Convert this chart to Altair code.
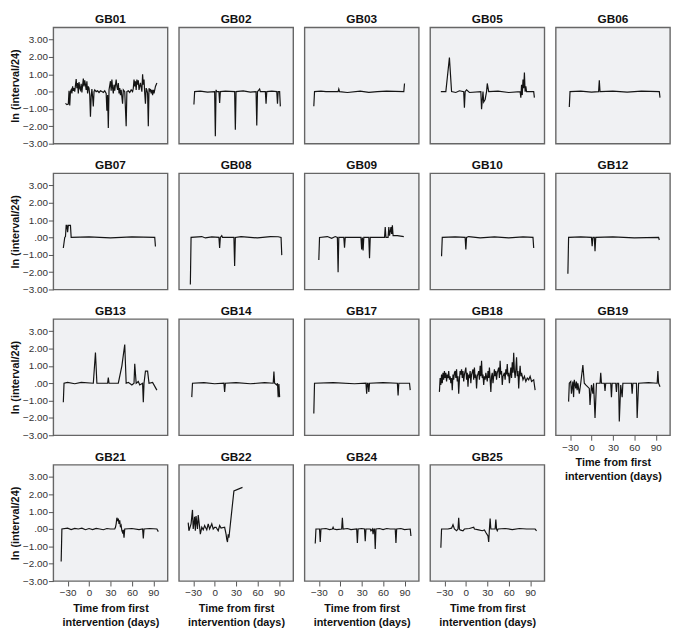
import altair as alt
import pandas as pd

PANELS = ["GB01", "GB02", "GB03", "GB05", "GB06",
          "GB07", "GB08", "GB09", "GB10", "GB12",
          "GB13", "GB14", "GB17", "GB18", "GB19",
          "GB21", "GB22", "GB24", "GB25"]
BOTTOM = ["GB19", "GB21", "GB22", "GB24", "GB25"]
X_TICKS = [-30, 0, 30, 60, 90]
Y_TICKS = [-3, -2, -1, 0, 1, 2, 3]

GB01_DAY = [-33, -31, -29, -28, -27, -26, -25, -24, -23, -22, -21, -20, -18, -17, -16, -15, -14, -13, -12, -11, -10, -8, -7, -6, -5, -4, -3, -2, -1, 0, 1, 2, 3, 4, 5, 6, 7, 8, 10, 12, 14, 16, 18, 20, 22, 24, 25, 26, 27, 28, 30, 31, 32, 33, 34, 35, 36, 38, 39, 40, 41, 42, 43, 44, 45, 46, 47, 48, 50, 52, 53, 55, 57, 59, 61, 62, 63, 64, 65, 66, 67, 68, 69, 70, 72, 74, 75, 76, 77, 78, 79, 80, 81, 82, 83, 84, 85, 86, 87, 88, 89, 90, 91, 93, 95]
GB01_VAL = [-0.68, -0.75, -0.72, 0.05, -0.8, 0.0, 0.1, -0.1, 0.3, 0.05, 0.2, 0.0, 0.72, 0.2, 0.5, -0.1, 0.55, 0.2, 0.1, 0.45, -0.05, 0.75, 0.3, 0.65, 0.4, 0.1, 0.6, -0.1, 0.3, 0.2, -0.2, -1.45, -0.3, 0.15, -0.3, -0.85, 0.0, 0.1, 0.0, 0.05, -0.05, 0.05, 0.0, -0.05, 0.05, -0.1, -1.1, -0.2, -2.1, 0.1, 0.6, 0.05, 0.7, 0.2, -0.1, 0.4, 0.05, 0.7, 0.3, 0.1, 0.5, -0.1, 0.2, -0.2, 0.1, -0.3, -0.7, 0.1, 0.0, -2.0, 0.0, 0.05, -0.05, 0.1, 0.0, 0.2, 0.7, 0.3, 0.6, 0.1, 0.7, 0.4, 0.65, 0.1, 0.5, 0.0, 1.0, 0.4, 0.7, -0.1, -0.7, 0.2, 0.1, -0.1, -2.0, 0.2, 0.0, 0.15, -0.1, 0.1, -0.2, 0.1, -0.1, 0.3, 0.5]

GB02_DAY = [-29, -28, -20, -10, 0, 1, 2, 3, 6, 7, 8, 15, 28, 29, 30, 40, 50, 58, 59, 60, 63, 64, 71, 72, 73, 80, 87, 88, 89, 91, 92]
GB02_VAL = [-0.74, 0.0, 0.03, -0.03, 0.0, -2.57, 0.1, 0.0, 0.0, -0.65, 0.0, 0.03, 0.0, -2.2, 0.0, 0.04, -0.03, 0.0, -1.95, 0.0, 0.15, 0.0, 0.0, -0.7, 0.0, 0.03, 0.0, -0.7, 0.0, 0.0, -0.85]

GB03_DAY = [-37, -36, -27, -20, -3, -2, -1, 10, 28, 40, 52, 65, 89, 90]
GB03_VAL = [-0.84, 0.0, 0.03, 0.0, 0.0, 0.15, 0.0, -0.05, 0.03, -0.04, 0.0, 0.03, 0.0, 0.47]

GB05_DAY = [-35, -28, -23, -20, -14, -9, -3, -2, -1, 1, 5, 21, 22, 24, 25, 27, 29, 30, 32, 45, 60, 76, 77, 78, 79, 80, 81, 82, 83, 84, 85, 95, 96]
GB05_VAL = [0.0, 0.0, 1.96, 0.0, -0.05, 0.05, 0.0, -0.93, 0.0, 0.1, -0.05, 0.0, -1.02, 0.0, -0.6, -0.45, 0.0, 0.47, 0.0, 0.03, -0.05, 0.0, -0.35, 0.4, -0.2, 0.7, 0.2, 1.1, 0.0, 0.3, 0.0, 0.0, -0.35]

GB06_DAY = [-31, -30, -15, 0, 10, 11, 12, 30, 50, 70, 95, 96]
GB06_VAL = [-0.89, 0.0, 0.03, -0.03, 0.0, 0.65, 0.0, 0.03, -0.03, 0.03, 0.0, -0.35]

GB07_DAY = [-36, -34, -33, -32, -31, -30, -29, -26, -25, 0, 30, 60, 92, 93]
GB07_VAL = [-0.61, 0.0, 0.05, 0.69, 0.69, 0.3, 0.69, 0.69, 0.0, 0.03, -0.03, 0.03, 0.0, -0.52]

GB08_DAY = [-34, -33, -18, -13, -4, 6, 7, 8, 10, 11, 27, 28, 29, 37, 60, 78, 89, 93, 94]
GB08_VAL = [-2.72, 0.0, 0.05, -0.03, 0.03, 0.0, -0.61, 0.0, 0.1, 0.0, 0.0, -1.65, 0.0, 0.05, -0.03, 0.05, 0.04, 0.0, -1.02]

GB09_DAY = [-30, -29, -18, -12, -7, -4, -3, -2, 5, 6, 7, 29, 30, 31, 32, 33, 40, 41, 42, 62, 63, 64, 67, 68, 69, 71, 72, 73, 74, 76, 80, 89]
GB09_VAL = [-1.3, 0.0, 0.05, -0.05, 0.05, 0.0, -2.0, 0.0, 0.0, -0.6, 0.0, 0.0, -0.7, 0.0, -0.75, 0.0, 0.0, -1.2, 0.0, 0.0, 0.6, 0.0, 0.0, 0.6, 0.1, 0.6, 0.2, 0.7, 0.1, 0.1, 0.1, 0.05]

GB10_DAY = [-34, -33, -15, -1, 0, 1, 4, 20, 40, 60, 80, 94, 95]
GB10_VAL = [-1.08, 0.0, 0.03, 0.0, -0.7, 0.0, 0.05, -0.03, 0.03, -0.03, 0.03, 0.0, -0.61]

GB12_DAY = [-33, -32, -15, 0, 1, 2, 4, 5, 6, 30, 60, 94, 95]
GB12_VAL = [-2.1, 0.0, 0.03, 0.0, -0.5, 0.0, 0.0, -0.8, 0.0, 0.03, -0.03, 0.0, -0.15]

GB13_DAY = [-36, -35, -30, -20, -11, 6, 9, 11, 26, 27, 28, 41, 46, 50, 52, 55, 60, 63, 64, 66, 69, 71, 75, 76, 77, 79, 82, 84, 89, 95]
GB13_VAL = [-1.1, 0.0, 0.05, -0.03, 0.05, 0.0, 1.77, 0.0, 0.0, 0.33, 0.0, 0.0, 1.0, 2.23, 0.0, 0.05, -0.1, 0.0, 1.12, 0.0, 0.1, -0.1, 0.0, -1.1, 0.0, 0.7, 0.7, 0.0, 0.05, -0.4]

GB14_DAY = [-32, -31, -15, 0, 13, 14, 15, 30, 50, 70, 82, 83, 84, 87, 88, 89, 90, 91]
GB14_VAL = [-0.8, 0.0, 0.03, -0.03, 0.0, -0.5, 0.0, 0.03, -0.03, 0.03, 0.0, 0.67, 0.0, -0.1, 0.0, -0.8, -0.05, -0.8]

GB17_DAY = [-37, -36, -10, 20, 36, 37, 38, 39, 40, 41, 60, 80, 81, 82, 97, 98]
GB17_VAL = [-1.75, 0.0, 0.03, -0.03, 0.0, -0.6, 0.0, 0.0, -0.5, 0.0, 0.03, 0.0, -0.7, 0.0, 0.0, -0.4]

GB18_DAY = [-37, -36, -35, -34, -33, -32, -31, -30, -29, -28, -27, -26, -25, -24, -23, -22, -21, -20, -19, -18, -17, -16, -15, -14, -13, -12, -11, -10, -9, -8, -7, -6, -5, -4, -3, -2, 0, 1, 2, 3, 4, 5, 6, 7, 8, 10, 11, 12, 13, 14, 15, 16, 18, 19, 20, 21, 22, 23, 24, 25, 26, 27, 28, 30, 31, 32, 33, 35, 36, 37, 38, 40, 41, 42, 43, 44, 46, 47, 48, 49, 50, 51, 52, 54, 55, 56, 57, 58, 59, 60, 61, 62, 63, 64, 65, 66, 67, 68, 69, 70, 71, 72, 73, 74, 75, 76, 77, 78, 80, 82, 84, 86, 88, 90, 92, 95, 97]
GB18_VAL = [-0.5, 0.3, -0.1, 0.5, 0.0, 0.6, 0.2, 0.7, 0.3, 0.6, 0.1, 0.5, 0.3, 0.7, 0.2, 0.4, 0.0, 0.3, -0.4, 0.5, 0.2, 0.6, 0.7, 0.3, 0.8, 0.1, 0.4, -0.6, 0.2, 0.7, 0.5, 0.8, 0.3, 0.7, 0.1, 0.5, 0.9, 0.2, 0.6, -0.2, 0.5, 0.3, 0.7, 0.0, 0.5, 0.8, 0.2, 0.9, 0.3, 0.5, -0.3, 0.4, 0.7, 0.2, 1.0, 0.4, 1.3, 0.3, 0.5, -0.1, 0.4, 0.2, 0.6, 0.1, 0.7, 0.3, 0.9, -0.5, 0.4, 0.6, 0.0, 0.8, 0.4, 0.7, 0.2, 0.6, 0.9, 0.3, 1.3, 0.5, 0.7, -0.1, 0.4, 0.6, 0.2, 0.8, 0.5, 1.1, 0.4, 0.6, 0.0, 0.5, 0.9, 0.3, 1.2, 0.6, 1.75, 0.7, 0.3, 0.8, 1.5, 0.4, 0.7, -0.3, 0.5, 1.0, 0.4, 0.6, 0.2, 0.4, 0.1, 0.3, 0.2, 0.4, 0.1, 0.2, -0.4]

GB19_DAY = [-32, -31, -29, -28, -26, -25, -24, -22, -21, -20, -19, -17, -15, -12, -10, -8, -3, -2, 0, 2, 3, 5, 7, 12, 13, 14, 18, 19, 20, 27, 28, 29, 34, 35, 36, 38, 39, 41, 43, 44, 56, 57, 58, 63, 64, 66, 80, 92, 93, 94, 96]
GB19_VAL = [-1.06, 0.0, 0.1, -0.6, 0.1, -0.8, 0.2, -0.3, 0.1, -0.4, 0.0, -0.6, 0.0, 1.05, 0.0, -0.1, -0.3, -1.25, -0.1, -0.6, 0.0, -2.0, 0.0, 0.0, 0.6, 0.0, 0.0, -0.45, 0.0, 0.0, -0.8, 0.0, 0.0, -0.5, 0.0, 0.0, -2.2, -0.1, -0.8, 0.0, 0.0, -0.6, 0.0, 0.0, -2.0, 0.0, 0.03, 0.0, 0.7, 0.0, -0.2]

GB21_DAY = [-39, -38, -30, -25, -20, -15, -10, -5, 0, 5, 10, 15, 20, 25, 30, 36, 37, 38, 39, 40, 41, 42, 43, 44, 45, 46, 47, 48, 49, 50, 60, 70, 75, 76, 77, 85, 95, 97]
GB21_VAL = [-1.87, 0.0, 0.05, -0.03, 0.04, 0.0, 0.05, -0.04, 0.03, -0.03, 0.04, 0.0, -0.04, 0.03, 0.0, 0.0, 0.1, 0.3, 0.65, 0.45, 0.6, 0.3, 0.5, 0.1, 0.2, -0.1, -0.2, -0.05, -0.5, 0.0, 0.03, -0.03, 0.0, -0.55, 0.0, 0.03, 0.0, -0.15]

GB22_DAY = [-37, -36, -33, -31, -30, -28, -27, -26, -24, -23, -21, -20, -18, -16, -14, -11, -9, -7, -4, -2, 0, 2, 5, 7, 9, 14, 16, 17, 18, 19, 20, 27, 39]
GB22_VAL = [0.37, -0.1, 0.3, 1.1, 0.0, 0.7, -0.1, 0.75, 0.0, 0.8, 0.1, -0.3, 0.1, -0.05, 0.2, -0.05, 0.3, 0.0, 0.3, 0.0, 0.1, 0.1, -0.1, 0.2, 0.05, 0.1, -0.3, -0.6, -0.75, -0.3, -0.5, 2.2, 2.4]

GB24_DAY = [-35, -34, -29, -28, -27, -20, -15, -11, -10, -9, -5, 2, 3, 4, 10, 15, 23, 24, 25, 30, 34, 35, 36, 42, 43, 45, 46, 47, 48, 49, 50, 55, 60, 65, 70, 77, 78, 79, 85, 90, 98, 99]
GB24_VAL = [-0.84, 0.0, 0.0, -0.75, 0.0, 0.03, -0.03, 0.0, 0.1, 0.0, -0.03, 0.0, 0.65, 0.0, 0.03, -0.03, 0.0, -0.8, 0.0, 0.03, 0.0, -0.7, 0.0, 0.0, -0.1, 0.0, -0.3, 0.0, 0.0, -1.15, 0.0, 0.03, -0.03, 0.03, 0.0, 0.0, -0.8, 0.0, 0.03, -0.03, 0.0, -0.4]

GB25_DAY = [-35, -34, -25, -20, -18, -16, -13, -11, -10, -9, -8, -4, -2, 5, 11, 12, 18, 23, 26, 28, 31, 32, 33, 34, 35, 41, 42, 43, 44, 45, 55, 65, 75, 85, 97, 99]
GB25_VAL = [-1.08, 0.0, 0.0, 0.05, 0.25, 0.0, -0.1, 0.0, 0.65, 0.0, -0.05, -0.1, 0.0, 0.03, 0.1, 0.0, -0.05, -0.1, -0.05, -0.2, -0.4, -0.75, 0.0, 0.6, 0.0, 0.0, 0.55, 0.0, -0.1, 0.0, 0.03, -0.03, 0.03, 0.0, 0.0, -0.1]

SERIES = {
    "GB01": (GB01_DAY, GB01_VAL), "GB02": (GB02_DAY, GB02_VAL), "GB03": (GB03_DAY, GB03_VAL),
    "GB05": (GB05_DAY, GB05_VAL), "GB06": (GB06_DAY, GB06_VAL), "GB07": (GB07_DAY, GB07_VAL),
    "GB08": (GB08_DAY, GB08_VAL), "GB09": (GB09_DAY, GB09_VAL), "GB10": (GB10_DAY, GB10_VAL),
    "GB12": (GB12_DAY, GB12_VAL), "GB13": (GB13_DAY, GB13_VAL), "GB14": (GB14_DAY, GB14_VAL),
    "GB17": (GB17_DAY, GB17_VAL), "GB18": (GB18_DAY, GB18_VAL), "GB19": (GB19_DAY, GB19_VAL),
    "GB21": (GB21_DAY, GB21_VAL), "GB22": (GB22_DAY, GB22_VAL), "GB24": (GB24_DAY, GB24_VAL),
    "GB25": (GB25_DAY, GB25_VAL),
}

FONT = "Liberation Sans"


def panel(name, idx):
    days, vals = SERIES[name]
    df = pd.DataFrame({"day": days, "val": vals})
    if name in BOTTOM:
        xaxis = alt.Axis(values=X_TICKS, title=["Time from first", "intervention (days)"],
                         labelFlush=False, labelPadding=2, titlePadding=5,
                         titleLineHeight=14)
    else:
        xaxis = None
    if idx % 5 == 0:
        yaxis = alt.Axis(values=Y_TICKS, title="ln (interval/24)",
                         labelExpr="datum.value == 0 ? '.00' : format(datum.value, '.2f')",
                         labelPadding=1, titlePadding=2)
    else:
        yaxis = None
    return alt.Chart(df, title=alt.TitleParams(name)).mark_line(
        color="#141414", strokeWidth=1.2, clip=True
    ).encode(
        x=alt.X("day:Q", scale=alt.Scale(domain=[-50, 110], nice=False, zero=False), axis=xaxis),
        y=alt.Y("val:Q", scale=alt.Scale(domain=[-3, 3.7], nice=False, zero=False), axis=yaxis),
        order="day:Q",
    ).properties(width=116, height=118)


charts = [panel(n, i) for i, n in enumerate(PANELS)]

chart = alt.concat(
    *charts, columns=5, spacing={"row": 30, "column": 11.5}, bounds="flush"
).properties(
    padding=0
).configure_view(
    fill="#f0f1f3", stroke="#666666", strokeWidth=1.4
).configure_axis(
    domain=False, grid=False,
    labelFont=FONT, labelFontSize=10, labelColor="#333333",
    tickColor="#555555", tickSize=5, tickWidth=1,
    titleFont=FONT, titleFontSize=11, titleFontWeight="bold", titleColor="#111111",
).configure_title(
    font=FONT, fontSize=12, fontWeight="bold", color="#111111", offset=1, anchor="middle"
)

chart.save("out.html", embed_options={"renderer": "svg", "actions": False})
